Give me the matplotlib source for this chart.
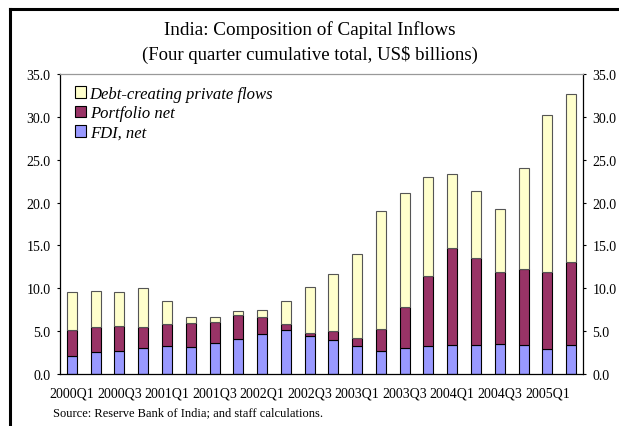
import matplotlib
matplotlib.use("Agg")
import matplotlib.pyplot as plt
from matplotlib.patches import Patch
from matplotlib.lines import Line2D
import numpy as np

quarters = [f"{y}Q{q}" for y in range(2000, 2006) for q in range(1, 5)][:22]

# Cumulative stack levels (US$ billions)
fdi = [2.14, 2.57, 2.73, 3.08, 3.23, 3.20, 3.62, 4.09, 4.72, 5.10, 4.42,
       3.94, 3.23, 2.69, 3.08, 3.27, 3.39, 3.39, 3.55, 3.39, 2.96, 3.39]
portfolio_top = [5.10, 5.53, 5.65, 5.46, 5.81, 5.92, 6.12, 6.90, 6.70, 5.85, 4.79,
                 4.99, 4.25, 5.30, 7.87, 11.46, 14.73, 13.48, 11.93, 12.20, 11.93, 13.02]
total = [9.59, 9.74, 9.51, 10.02, 8.46, 6.66, 6.70, 7.37, 7.48, 8.57, 10.17,
         11.61, 13.99, 19.06, 21.16, 22.99, 23.30, 21.32, 19.25, 24.08, 30.24, 32.66]

portfolio = [p - f for p, f in zip(portfolio_top, fdi)]
debt = [t - p for t, p in zip(total, portfolio_top)]

tick_labels = quarters[::2]

plt.rcParams['font.family'] = ['Liberation Serif', 'DejaVu Serif']

fig = plt.figure(figsize=(6.19, 4.27), dpi=100)
ax = fig.add_axes([60/619, 1-375/427, (583-60)/619, 300/427])

c_fdi = '#9999FF'
c_port = '#993366'
c_debt = '#FFFFCC'

x = np.arange(len(quarters))
w = 0.42
ax.bar(x, fdi, w, color=c_fdi, edgecolor='black', linewidth=0.8)
ax.bar(x, portfolio, w, bottom=fdi, color=c_port, edgecolor='black', linewidth=0.8)
ax.bar(x, debt, w, bottom=portfolio_top, color=c_debt, edgecolor='#555555', linewidth=0.8)

ax.set_xlim(-0.5, len(quarters) - 0.5)
ax.set_ylim(0, 35)
ax.set_yticks(np.arange(0, 35.1, 5))
ax.set_yticklabels([f"{v:.1f}" for v in np.arange(0, 35.1, 5)], fontsize=10)
ax.set_xticks(x[::2])
ax.set_xticklabels(tick_labels, fontsize=10)
ax.tick_params(axis='x', length=0, pad=9)
ax.tick_params(axis='y', direction='out', length=2, width=0.8, pad=4.8,
               left=True, right=True, labelleft=True, labelright=True)

for side in ['left', 'right', 'bottom']:
    ax.spines[side].set_color('black')
    ax.spines[side].set_linewidth(0.9)
ax.spines['top'].set_color('#999999')
ax.spines['top'].set_linewidth(0.9)

handles = [Patch(facecolor=c_debt, edgecolor='black', linewidth=0.8),
           Patch(facecolor=c_port, edgecolor='black', linewidth=0.8),
           Patch(facecolor=c_fdi, edgecolor='black', linewidth=0.8)]
labels = ['Debt-creating private flows', 'Portfolio net', 'FDI, net']
ax.legend(handles, labels, loc='upper left', frameon=False,
          prop={'family': 'Liberation Serif', 'style': 'italic', 'size': 12},
          handlelength=0.68, handleheight=0.68, handletextpad=0.2,
          labelspacing=0.21, borderpad=0, borderaxespad=0,
          bbox_to_anchor=(15/523, 1 - 12/300))

fig.text(0.5, 1-30/427, 'India: Composition of Capital Inflows',
         ha='center', va='center', fontsize=13.8)
fig.text(0.5, 1-55/427, '(Four quarter cumulative total, US$ billions)',
         ha='center', va='center', fontsize=13.5)
fig.text(53/619, 1-413/427, 'Source: Reserve Bank of India; and staff calculations.',
         ha='left', va='center', fontsize=9)

# frame lines along the top and left edges
fig.add_artist(Line2D([10/619, 1], [1-10/427, 1-10/427], color='black', linewidth=2.2))
fig.add_artist(Line2D([10/619, 10/619], [0, 1-10/427], color='black', linewidth=2.2))

fig.savefig('out.png', dpi=100)
